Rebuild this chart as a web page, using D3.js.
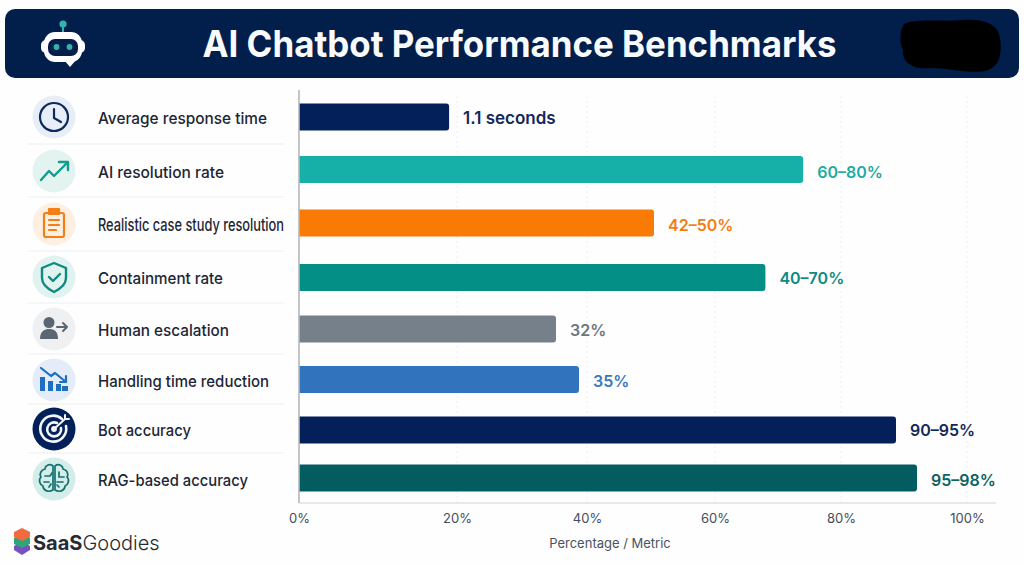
<!DOCTYPE html>
<html>
<head>
<meta charset="utf-8">
<title>AI Chatbot Performance Benchmarks</title>
<script src="https://cdn.jsdelivr.net/npm/d3@7/dist/d3.min.js"></script>
<style>
  html, body { margin: 0; padding: 0; background: #fefefe; }
  svg { display: block; }
  text { font-family: Inter, "Noto Sans", sans-serif; }
</style>
</head>
<body>
<svg id="chart" width="1024" height="565"></svg>
<script>
// Benchmark metrics, one row per bar
const metrics = ["Average response time", "AI resolution rate", "Realistic case study resolution", "Containment rate", "Human escalation", "Handling time reduction", "Bot accuracy", "RAG-based accuracy"];
const barValues = [19, 74, 50, 68, 32, 35, 90, 95];
const valueLabels = ["1.1 seconds", "60–80%", "42–50%", "40–70%", "32%", "35%", "90–95%", "95–98%"];
const barColors = ["#03205a", "#17b0a8", "#f97b05", "#048f86", "#76808a", "#3273bd", "#03205a", "#025c60"];
const labelColors = ["#14285a", "#1faaa1", "#f47c12", "#0e8a80", "#6c757f", "#3a78bd", "#14285a", "#0c6360"];
const axisTicks = [0, 20, 40, 60, 80, 100];

// The percentage axis is not evenly spaced, so the scale runs through fixed stops
const xStops = [0, 20, 32, 35, 40, 50, 60, 80, 90, 95, 100];
const xPixels = [299, 457, 556, 579, 587, 654, 715, 841, 896, 917, 967];
const rowCentres = [117, 169.5, 223, 277.5, 329, 379.5, 430, 478];
const iconCentres = [117, 171, 224, 277, 329, 380, 429, 479];
const rowRules = [144, 197, 251, 303, 354, 404, 453];
const labelWidths = [169, 126, 186, 125, 131, 171, 93, 150];

const svg = d3.select("#chart");
const x = d3.scaleLinear().domain(xStops).range(xPixels);
const y = d3.scaleOrdinal().domain(metrics).range(rowCentres);
const iconY = d3.scaleOrdinal().domain(metrics).range(iconCentres);
const barHeight = 27;
const axisY = 503;

// Header band
svg.append("rect").attr("x", 5).attr("y", 9).attr("width", 1014).attr("height", 69).attr("rx", 10).attr("fill", "#021e4b");
svg.append("text").attr("x", 519.5).attr("y", 56.5).attr("text-anchor", "middle")
  .attr("fill", "#f8fafc").attr("font-size", 37).attr("font-weight", 700)
  .attr("textLength", 634).attr("lengthAdjust", "spacingAndGlyphs")
  .text("AI Chatbot Performance Benchmarks");
svg.append("path").attr("fill", "#000")
  .attr("d", "M904 24 C915 18 945 22 962 20 C980 19 998 22 1000 38 C1002 50 1001 68 985 71 C968 74 950 68 930 68 C912 70 902 62 903 50 C899 42 900 30 904 24Z");

// Robot badge in the header
const robot = svg.append("g");
robot.append("line").attr("x1", 63).attr("x2", 63).attr("y1", 25).attr("y2", 33).attr("stroke", "#2fb5ad").attr("stroke-width", 2);
robot.append("circle").attr("cx", 63).attr("cy", 24).attr("r", 3.6).attr("fill", "#2fb5ad");
robot.append("rect").attr("x", 41).attr("y", 40).attr("width", 44).attr("height", 13).attr("rx", 5).attr("fill", "#fff");
robot.append("rect").attr("x", 44).attr("y", 32).attr("width", 38).attr("height", 30).attr("rx", 11).attr("fill", "#fff");
robot.append("path").attr("d", "M64 60 L76 60 L70 67Z").attr("fill", "#fff");
robot.append("rect").attr("x", 48).attr("y", 39).attr("width", 30).attr("height", 17).attr("rx", 7).attr("fill", "#021e4b");
robot.selectAll("circle.eye").data([56.5, 69.5]).join("circle").attr("class", "eye")
  .attr("cx", d => d).attr("cy", 47).attr("r", 2.9).attr("fill", "#2fb5ad");

// Row separators
svg.append("g").selectAll("line").data(rowRules).join("line")
  .attr("x1", 28).attr("x2", 284).attr("y1", d => d).attr("y2", d => d)
  .attr("stroke", "#eceef0").attr("stroke-width", 1.2);

// Dotted grid lines
svg.append("g").selectAll("line").data(axisTicks.slice(1)).join("line")
  .attr("x1", d => x(d)).attr("x2", d => x(d)).attr("y1", 96).attr("y2", axisY)
  .attr("stroke", "#eceef0").attr("stroke-width", 1).attr("stroke-dasharray", "2 3");

// Bars
svg.append("g").selectAll("path").data(metrics).join("path")
  .attr("fill", (d, i) => barColors[i])
  .attr("d", (d, i) => {
    const x0 = x(0), x1 = x(barValues[i]), top = y(d) - barHeight / 2, r = 3;
    return `M${x0} ${top}H${x1 - r}Q${x1} ${top} ${x1} ${top + r}V${top + barHeight - r}Q${x1} ${top + barHeight} ${x1 - r} ${top + barHeight}H${x0}Z`;
  });

// Value labels
svg.append("g").selectAll("text").data(metrics).join("text")
  .attr("x", (d, i) => x(barValues[i]) + 14)
  .attr("y", d => iconY(d) + 6.5)
  .attr("fill", (d, i) => labelColors[i])
  .attr("font-size", (d, i) => valueLabels[i].endsWith("%") ? 16 : 17)
  .attr("font-weight", 600)
  .text((d, i) => valueLabels[i]);

// Axes
svg.append("line").attr("x1", 299).attr("x2", 299).attr("y1", 90).attr("y2", axisY).attr("stroke", "#b4b7ba").attr("stroke-width", 1.6);
svg.append("line").attr("x1", 299).attr("x2", 996).attr("y1", axisY).attr("y2", axisY).attr("stroke", "#cfd2d5").attr("stroke-width", 1.2);
const axis = svg.append("g").attr("transform", `translate(0,${axisY})`)
  .call(d3.axisBottom(x).tickValues(axisTicks).tickSize(0).tickPadding(11).tickFormat(d => d + "%"));
axis.select(".domain").remove();
axis.selectAll("text").attr("font-size", 13).attr("fill", "#454d5b").attr("font-family", "Inter, sans-serif");
svg.append("text").attr("x", 610).attr("y", 548).attr("text-anchor", "middle")
  .attr("font-size", 13).attr("fill", "#4b5362").text("Percentage / Metric");

// Metric names
svg.append("g").selectAll("text").data(metrics).join("text")
  .attr("x", 98).attr("y", d => iconY(d) + 6.5)
  .attr("font-size", (d, i) => i === 2 ? 17 : 16).attr("font-weight", 500).attr("fill", "#1d2636")
  .attr("textLength", (d, i) => labelWidths[i]).attr("lengthAdjust", "spacingAndGlyphs")
  .text(d => d);

// Icon discs and glyphs, each glyph drawn around the disc centre
const discColors = ["#e8eef7", "#e3f3f0", "#fdf0e3", "#e1f3f0", "#eff0f2", "#e3ecf8", "#03205a", "#d5edea"];
const icons = svg.append("g").selectAll("g").data(metrics).join("g")
  .attr("transform", d => `translate(54,${iconY(d)})`);
icons.append("circle").attr("r", 21.5).attr("fill", (d, i) => discColors[i]);

const stroke = (g, color, w) => g.attr("fill", "none").attr("stroke", color).attr("stroke-width", w)
  .attr("stroke-linecap", "round").attr("stroke-linejoin", "round");

// Clock
const clock = icons.filter((d, i) => i === 0).append("g").call(stroke, "#0d2a5c", 2.2);
clock.append("circle").attr("r", 14);
clock.append("path").attr("d", "M0 -8V1L7 5");

// Rising trend
icons.filter((d, i) => i === 1).append("path").call(stroke, "#129c90", 2.4)
  .attr("d", "M-13 9L-5 0L0 5L13 -8M5 -9H14V-1");

// Clipboard
const board = icons.filter((d, i) => i === 2).append("g").call(stroke, "#f57f17", 2.2);
board.append("rect").attr("x", -10).attr("y", -11).attr("width", 20).attr("height", 24).attr("rx", 2);
board.append("rect").attr("x", -5).attr("y", -15).attr("width", 10).attr("height", 5).attr("fill", "#f57f17");
board.append("path").attr("d", "M-5 -4H5M-5 1H5M-5 6H2");

// Shield with tick
icons.filter((d, i) => i === 3).append("path").call(stroke, "#10897f", 2.4)
  .attr("d", "M0 -14L12 -9V1C12 8 6 12 0 15C-6 12 -12 8 -12 1V-9ZM-5 0L-1 4L6 -3");

// Person with arrow
const person = icons.filter((d, i) => i === 4).append("g").attr("fill", "#5a6672");
person.append("circle").attr("cx", -5).attr("cy", -6.5).attr("r", 5.5);
person.append("path").attr("d", "M-14 10C-14 2 -9 0 -5 0C0 0 4 2 4 10Z");
person.append("path").call(stroke, "#5a6672", 2).attr("d", "M3 -2H13M9 -6L13 -2L9 2");

// Falling bars
const fall = icons.filter((d, i) => i === 5).append("g").attr("fill", "#1f6fc0");
fall.selectAll("rect").data([[-14, -3, 5, 14], [-6, 1, 5, 10], [2, 4, 5, 7], [8, 6, 6, 5]]).join("rect")
  .attr("x", d => d[0]).attr("y", d => d[1]).attr("width", d => d[2]).attr("height", d => d[3]);
fall.append("path").call(stroke, "#1f6fc0", 2.2).attr("d", "M-13 -12L-3 -4L1 -7L12 2M12 -4V2H6");

// Target with dart
const target = icons.filter((d, i) => i === 6).append("g").call(stroke, "#f4f6fa", 2.6);
target.append("path").attr("d", "M8 -10A13 13 0 1 0 12 -3");
target.append("path").attr("d", "M3 -6A7 7 0 1 0 7 -1");
target.append("circle").attr("r", 1.6).attr("fill", "#f4f6fa");
target.append("path").attr("stroke-width", 2).attr("d", "M0 0L11 -10M11 -10V-14M11 -10H15");

// Brain outline
const brain = icons.filter((d, i) => i === 7).append("g").call(stroke, "#13716e", 1.7);
brain.append("path").attr("d", "M-1 -13C-5 -16 -9 -13 -9 -10C-13 -9 -15 -5 -13 -2C-16 1 -14 6 -11 7C-11 11 -6 14 -1 11Z");
brain.append("path").attr("d", "M1 -13C5 -16 9 -13 9 -10C13 -9 15 -5 13 -2C16 1 14 6 11 7C11 11 6 14 1 11Z");
brain.append("path").attr("d", "M-9 -3H-4L-2 -6M-10 3H-5M5 -7V-2H10M3 3H9M-5 8L-3 5M5 8L3 6");

// Brand mark
const brand = svg.append("g");
brand.append("path").attr("fill", "#7a4fc0").attr("d", "M14 546L22 542L30 546V550L22 555L14 550Z");
brand.append("path").attr("fill", "#2fa57a").attr("d", "M14 538L22 534L30 538V544L22 548L14 544Z");
brand.append("path").attr("fill", "#f26a3d").attr("d", "M14 532L22 528L30 532V537L22 541L14 537Z");
const brandText = brand.append("text").attr("x", 33).attr("y", 550).attr("font-size", 20).attr("fill", "#262b33");
brandText.append("tspan").attr("font-weight", 700).text("SaaS");
brandText.append("tspan").attr("font-weight", 300).text("Goodies");
</script>
</body>
</html>
